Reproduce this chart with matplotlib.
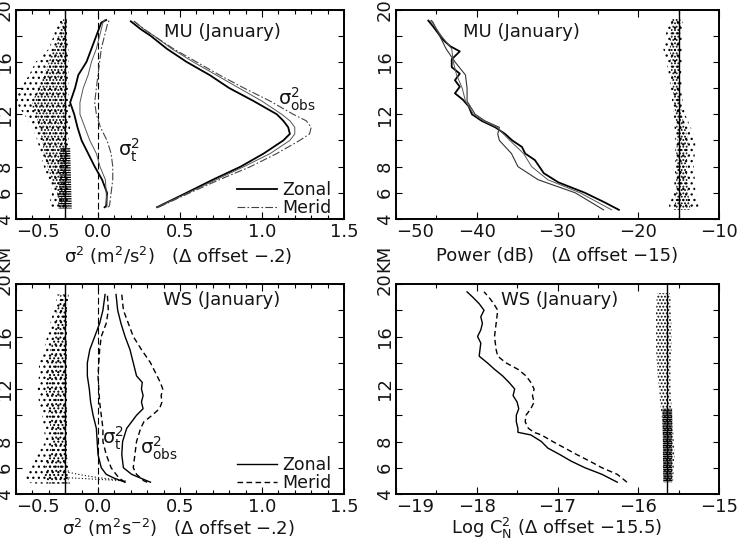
import matplotlib
matplotlib.use("Agg")
import matplotlib.pyplot as plt
from matplotlib.ticker import MultipleLocator, FixedLocator
import numpy as np

plt.rcParams['font.family'] = ['DejaVu Sans']
plt.rcParams['mathtext.fontset'] = 'dejavusans'
plt.rcParams['hatch.color'] = 'black'
plt.rcParams['hatch.linewidth'] = 0.9

# ---------------- MU (January) : variances ----------------
mu_h_t = [4.9, 5.0, 6.0, 7.0, 8.0, 9.0, 10.0, 11.0, 12.0, 12.9, 14.0, 15.0, 16.0, 17.0, 18.0, 19.0, 19.2]
mu_t_zonal = [0.04, 0.05, 0.055, 0.025, -0.02, -0.06, -0.10, -0.125, -0.145, -0.17, -0.14, -0.12, -0.07, -0.04, -0.01, 0.02, 0.05]
mu_t_zonal2 = [0.05, 0.055, 0.05, 0.045, 0.012, -0.01, -0.05, -0.08, -0.11, -0.11, -0.09, -0.06, -0.04, -0.01, 0.01, 0.03, 0.04]
mu_t_merid = [0.06, 0.07, 0.08, 0.09, 0.09, 0.08, 0.055, 0.015, -0.01, -0.02, -0.01, 0.0, 0.01, 0.02, 0.04, 0.06, 0.07]

mu_h_obs = [4.9, 6.0, 7.0, 8.0, 9.0, 10.0, 10.5, 11.0, 11.5, 12.0, 13.0, 14.0, 15.0, 16.0, 17.0, 18.0, 18.5, 19.1]
mu_obs_zonal = [0.36, 0.54, 0.70, 0.87, 1.01, 1.13, 1.17, 1.16, 1.13, 1.09, 0.95, 0.80, 0.68, 0.54, 0.42, 0.32, 0.26, 0.20]
mu_obs_zonal2 = [0.36, 0.55, 0.72, 0.89, 1.05, 1.17, 1.20, 1.20, 1.17, 1.12, 1.00, 0.86, 0.72, 0.58, 0.45, 0.34, 0.28, 0.22]
mu_obs_merid = [0.37, 0.56, 0.74, 0.93, 1.09, 1.23, 1.29, 1.30, 1.27, 1.19, 1.05, 0.89, 0.74, 0.60, 0.46, 0.34, 0.28, 0.22]

mu_offset_var = -0.2
mu_sc_h = [4.8, 5.0, 6.0, 7.0, 8.0, 9.0, 10.0, 11.0, 12.0, 12.5, 13.0, 13.5, 14.0, 15.0, 16.0, 17.0, 18.0, 19.0, 19.3]
mu_sc_left = [-0.27, -0.30, -0.28, -0.30, -0.33, -0.35, -0.37, -0.40, -0.45, -0.48, -0.50, -0.50, -0.47, -0.42, -0.38, -0.30, -0.27, -0.25, -0.24]
mu_sc_right = [-0.18, -0.18, -0.18, -0.18, -0.18, -0.18, -0.18, -0.17, -0.16, -0.17, -0.17, -0.18, -0.18, -0.18, -0.18, -0.18, -0.19, -0.19, -0.19]
mu_core_left = [-0.23, -0.24, -0.25, -0.28, -0.31, -0.33, -0.34, -0.36, -0.38, -0.40, -0.40, -0.38, -0.36, -0.33, -0.30, -0.27, -0.24, -0.22, -0.21]
mu_core_right = [-0.19] * 19
mu_band_h = [4.8, 9.5]
mu_band_left = [-0.24, -0.23]
mu_band_right = [-0.16, -0.17]

# ---------------- MU (January) : power ----------------
pw_h1 = [4.7, 5.25, 6.0, 6.8, 7.5, 8.5, 9.0, 9.5, 10.0, 10.5, 11.0, 11.5, 12.0, 12.6, 13.1, 13.6, 14.1, 14.6, 15.1, 15.6, 16.2, 16.8, 17.2, 17.7, 18.2, 18.7, 19.15]
pw_1 = [-22.4, -24.1, -26.6, -29.9, -31.7, -32.8, -34.0, -34.4, -35.6, -36.5, -37.7, -39.4, -40.6, -41.0, -41.7, -42.7, -42.1, -42.7, -42.1, -43.1, -43.1, -42.1, -43.3, -44.2, -44.8, -45.4, -46.0]
pw_h2 = [4.7, 6.0, 7.0, 8.0, 9.0, 10.0, 10.5, 11.0, 11.5, 12.0, 13.0, 14.0, 15.0, 16.0, 17.0, 18.0, 19.0, 19.15]
pw_2 = [-24.3, -27.8, -32.4, -34.9, -35.7, -37.2, -37.4, -37.2, -39.0, -40.2, -41.2, -41.2, -41.4, -42.7, -43.8, -44.6, -45.4, -45.6]
pw_3 = [-23.3, -27.2, -31.2, -33.2, -34.2, -35.9, -36.7, -37.5, -39.2, -40.4, -41.4, -41.8, -42.5, -42.9, -43.1, -44.4, -45.5, -45.8]

pw_offset = -15.0
pw_sc_h = [4.7, 5.0, 6.0, 7.0, 8.0, 9.0, 10.0, 11.0, 12.0, 13.0, 14.0, 15.0, 16.0, 17.0, 18.0, 19.0, 19.3]
pw_sc_left = [-16.3, -16.2, -15.6, -15.5, -15.4, -15.4, -15.4, -15.5, -15.6, -15.8, -16.0, -16.2, -16.5, -16.9, -16.6, -16.3, -16.0]
pw_sc_right = [-12.6, -12.5, -12.9, -13.0, -13.1, -13.0, -12.9, -13.5, -14.2, -14.5, -14.6, -14.7, -14.6, -14.6, -14.6, -14.5, -14.6]
pw_core_left = [-15.6, -15.5, -15.3, -15.3, -15.3, -15.3, -15.2, -15.3, -15.4, -15.6, -15.7, -15.9, -16.0, -16.1, -16.0, -15.9, -15.8]
pw_core_right = [-13.5, -13.6, -13.8, -13.9, -14.0, -13.9, -13.8, -14.2, -14.6, -14.8, -14.8, -14.9, -14.9, -14.9, -14.8, -14.7, -14.8]

# ---------------- WS (January) : variances ----------------
ws_h = [4.9, 5.2, 5.5, 6.0, 7.0, 8.0, 9.0, 10.0, 11.0, 12.0, 13.0, 14.0, 15.0, 16.0, 17.0, 18.0, 19.2]
ws_t_zonal = [0.165, 0.10, 0.05, 0.02, 0.0, -0.005, -0.01, -0.03, -0.045, -0.053, -0.065, -0.065, -0.05, -0.02, 0.01, 0.03, 0.043]
ws_t_merid = [0.165, 0.13, 0.11, 0.08, 0.05, 0.03, 0.03, 0.02, 0.01, 0.005, 0.0, 0.005, 0.01, 0.02, 0.05, 0.063, 0.057]
ws_h_obs = [4.9, 5.0, 5.5, 6.0, 6.5, 7.0, 8.0, 9.0, 9.5, 10.0, 10.5, 11.0, 11.5, 12.0, 12.5, 13.0, 14.0, 15.0, 16.0, 17.0, 18.0, 19.2]
ws_obs_zonal = [0.32, 0.30, 0.205, 0.155, 0.15, 0.145, 0.15, 0.175, 0.205, 0.235, 0.275, 0.265, 0.275, 0.265, 0.27, 0.235, 0.215, 0.195, 0.165, 0.14, 0.12, 0.11]
ws_obs_merid = [0.30, 0.28, 0.235, 0.215, 0.22, 0.225, 0.235, 0.26, 0.28, 0.33, 0.375, 0.39, 0.385, 0.395, 0.38, 0.36, 0.32, 0.265, 0.215, 0.185, 0.155, 0.145]

ws_sc_h = [4.8, 5.0, 5.3, 6.0, 7.0, 8.0, 9.0, 10.0, 11.0, 12.0, 13.0, 14.0, 15.0, 16.0, 17.0, 18.0, 19.0, 19.2]
ws_sc_left = [-0.40, -0.44, -0.44, -0.41, -0.37, -0.32, -0.33, -0.34, -0.36, -0.37, -0.36, -0.36, -0.33, -0.31, -0.29, -0.27, -0.25, -0.25]
ws_sc_right = [-0.17, -0.18, -0.18, -0.18, -0.19, -0.19, -0.19, -0.19, -0.19, -0.19, -0.19, -0.19, -0.19, -0.19, -0.19, -0.19, -0.18, -0.18]
ws_core_left = [-0.30, -0.32, -0.33, -0.32, -0.30, -0.28, -0.29, -0.30, -0.31, -0.32, -0.31, -0.31, -0.29, -0.27, -0.26, -0.25, -0.23, -0.23]
ws_spread1_x = [-0.20, -0.10, 0.0, 0.10, 0.17]
ws_spread1_h = [5.7, 5.45, 5.25, 5.1, 5.0]
ws_spread2_x = [-0.20, -0.05, 0.10, 0.16]
ws_spread2_h = [5.25, 5.15, 5.05, 5.0]

# ---------------- WS (January) : Log Cn2 ----------------
cn_h = [4.9, 5.5, 6.0, 6.5, 7.0, 7.5, 8.0, 8.5, 8.7, 9.0, 9.5, 10.0, 10.5, 11.0, 11.5, 12.0, 12.5, 13.0, 13.5, 14.0, 14.5, 15.0, 15.5, 16.0, 16.5, 17.0, 17.5, 18.0, 18.5, 19.0, 19.4]
cn_zonal = [-16.26, -16.45, -16.66, -16.83, -16.97, -17.12, -17.20, -17.33, -17.49, -17.49, -17.51, -17.51, -17.48, -17.50, -17.55, -17.53, -17.60, -17.68, -17.78, -17.87, -17.97, -17.96, -17.95, -17.99, -17.95, -17.93, -17.95, -17.91, -17.97, -18.05, -18.12]
cn_merid = [-16.14, -16.26, -16.45, -16.60, -16.76, -16.91, -17.06, -17.20, -17.29, -17.36, -17.40, -17.39, -17.33, -17.29, -17.31, -17.29, -17.33, -17.39, -17.49, -17.64, -17.74, -17.76, -17.77, -17.78, -17.77, -17.76, -17.75, -17.74, -17.79, -17.85, -17.91]
cn_offset = -15.65
cn_sc_h = [4.9, 6.0, 7.0, 8.0, 9.0, 10.0, 11.0, 12.0, 13.0, 14.0, 15.0, 16.0, 17.0, 18.0, 19.0, 19.3]
cn_sc_left = [-15.68, -15.69, -15.69, -15.69, -15.70, -15.71, -15.73, -15.74, -15.76, -15.77, -15.78, -15.78, -15.78, -15.78, -15.77, -15.76]
cn_sc_right = [-15.57, -15.56, -15.55, -15.56, -15.57, -15.58, -15.59, -15.60, -15.60, -15.60, -15.59, -15.59, -15.59, -15.60, -15.60, -15.61]
cn_band_h = [4.9, 10.5]
cn_band_left = [-15.69, -15.70]
cn_band_right = [-15.58, -15.58]

# ---------------- axis settings ----------------
var_ticks = [-0.5, 0.0, 0.5, 1.0, 1.5]
var_ticklabels = ['\u22120.5', '0.0', '0.5', '1.0', '1.5']
pw_ticks = [-50, -40, -30, -20, -10]
pw_ticklabels = ['\u221250', '\u221240', '\u221230', '\u221220', '\u221210']
cn_ticks = [-19, -18, -17, -16, -15]
cn_ticklabels = ['\u221219', '\u221218', '\u221217', '\u221216', '\u221215']
y_ticks = [4, 6, 8, 10, 12, 14, 16, 18, 20]
y_ticklabels = ['4', '6', '8', '', '12', '', '16', '', '20']

TXT = '#151515'
FS = 13

fig = plt.figure(figsize=(7.40, 5.38), dpi=100)
W, H = 740.0, 538.0

def make_ax(x0, x1, ytop, ybot):
    return fig.add_axes([x0 / W, 1 - ybot / H, (x1 - x0) / W, (ybot - ytop) / H])

ax1 = make_ax(16, 344, 9.5, 219)
ax2 = make_ax(396, 719, 9.5, 219)
ax3 = make_ax(16, 344, 284, 494)
ax4 = make_ax(396, 719, 284, 494)

def style(ax, xlim, ticks, labels, minor):
    ax.set_xlim(*xlim)
    ax.set_ylim(4, 20)
    ax.xaxis.set_major_locator(FixedLocator(ticks))
    ax.set_xticklabels(labels)
    ax.xaxis.set_minor_locator(MultipleLocator(minor))
    ax.set_yticks(y_ticks)
    ax.set_yticklabels(y_ticklabels)
    ax.tick_params(axis='both', which='both', direction='in', top=True, right=True,
                   colors='black', labelcolor=TXT, labelsize=FS, width=0.8)
    ax.tick_params(axis='x', which='major', length=5, pad=3)
    ax.tick_params(axis='x', which='minor', length=3)
    ax.tick_params(axis='y', which='major', length=4.5, pad=1.5, labelrotation=90)
    for lab in ax.get_yticklabels():
        lab.set_va('center')
    ax.get_xticklabels()[0].set_ha('left')
    for s in ax.spines.values():
        s.set_linewidth(1.4)
    ax.text(-0.035, 1.055, 'KM', transform=ax.transAxes, rotation=90, ha='center',
            va='bottom', fontsize=FS, color=TXT, clip_on=False)

style(ax1, (-0.5, 1.5), var_ticks, var_ticklabels, 0.1)
style(ax2, (-50, -10), pw_ticks, pw_ticklabels, 5)
style(ax3, (-0.5, 1.5), var_ticks, var_ticklabels, 0.1)
style(ax4, (-19, -15), cn_ticks, cn_ticklabels, 0.5)

leg_kw = dict(loc='lower right', bbox_to_anchor=(1.0, -0.05), frameon=False,
              fontsize=FS - 0.5, handlelength=2.3, handletextpad=0.3, labelspacing=0.0,
              borderaxespad=0.3, labelcolor=TXT)

def stipple(ax, h, left, right, pattern):
    ax.fill_betweenx(h, left, right, facecolor='none', edgecolor='k', lw=0, hatch=pattern)

# ---------------- panel 1 ----------------
stipple(ax1, mu_sc_h, mu_sc_left, mu_sc_right, '...')
stipple(ax1, mu_sc_h, mu_core_left, mu_core_right, '.....')
stipple(ax1, mu_band_h, mu_band_left, mu_band_right, '-' * 7)
ax1.axvline(mu_offset_var, color='black', lw=1.0)
ax1.axvline(0.0, color='black', lw=0.8, ls=(0, (6, 3)))
l_z, = ax1.plot(mu_t_zonal, mu_h_t, color='black', lw=1.3, label='Zonal')
ax1.plot(mu_t_zonal2, mu_h_t, color='#555555', lw=0.7)
l_m, = ax1.plot(mu_t_merid, mu_h_t, color='#444444', lw=0.8, ls=(0, (7, 2, 1.5, 2)), label='Merid')
ax1.plot(mu_obs_zonal, mu_h_obs, color='black', lw=1.3)
ax1.plot(mu_obs_zonal2, mu_h_obs, color='#555555', lw=0.7)
ax1.plot(mu_obs_merid, mu_h_obs, color='#444444', lw=0.8, ls=(0, (7, 2, 1.5, 2)))
ax1.text(0.628, 0.893, 'MU (January)', transform=ax1.transAxes, ha='center', va='center', fontsize=FS, color=TXT)
ax1.text(0.80, 0.57, '\u03c3$^2_{\\rm obs}$', transform=ax1.transAxes,
         ha='left', va='center', fontsize=FS + 1, color=TXT)
ax1.text(0.31, 0.33, '\u03c3$^2_{\\rm t}$', transform=ax1.transAxes,
         ha='left', va='center', fontsize=FS + 1, color=TXT)
ax1.legend(handles=[l_z, l_m], **leg_kw)
ax1.set_xlabel('\u03c3$^2$ (m$^2$/s$^2$)   (\u0394 offset \u2212.2)', fontsize=FS, color=TXT)
ax1.xaxis.set_label_coords(0.494, -0.175)
ax1.xaxis.label.set_va('center')

# ---------------- panel 2 ----------------
stipple(ax2, pw_sc_h, pw_sc_left, pw_sc_right, '...')
stipple(ax2, pw_sc_h, pw_core_left, pw_core_right, '.....')
ax2.axvline(pw_offset, color='black', lw=1.0)
ax2.plot(pw_1, pw_h1, color='black', lw=1.3)
ax2.plot(pw_2, pw_h2, color='#333333', lw=0.8)
ax2.plot(pw_3, pw_h2, color='#555555', lw=0.7)
ax2.text(0.387, 0.893, 'MU (January)', transform=ax2.transAxes, ha='center', va='center', fontsize=FS, color=TXT)
ax2.set_xlabel('Power (dB)   (\u0394 offset \u221215)', fontsize=FS, color=TXT)
ax2.xaxis.set_label_coords(0.498, -0.175)
ax2.xaxis.label.set_va('center')

# ---------------- panel 3 ----------------
stipple(ax3, ws_sc_h, ws_sc_left, ws_sc_right, '...')
stipple(ax3, ws_sc_h, ws_core_left, ws_sc_right, '....')
ax3.plot(ws_spread1_x, ws_spread1_h, color='black', lw=0.8, ls=(0, (1, 2)))
ax3.plot(ws_spread2_x, ws_spread2_h, color='black', lw=0.8, ls=(0, (1, 2)))
ax3.axvline(mu_offset_var, color='black', lw=1.0)
ax3.axvline(0.0, color='black', lw=0.8, ls=(0, (6, 3)))
w_z, = ax3.plot(ws_t_zonal, ws_h, color='black', lw=1.0, label='Zonal')
w_m, = ax3.plot(ws_t_merid, ws_h, color='black', lw=1.0, ls=(0, (4, 2.5)), label='Merid')
ax3.plot(ws_obs_zonal, ws_h_obs, color='black', lw=1.0)
ax3.plot(ws_obs_merid, ws_h_obs, color='black', lw=1.0, ls=(0, (4, 2.5)))
ax3.text(0.628, 0.924, 'WS (January)', transform=ax3.transAxes, ha='center', va='center', fontsize=FS, color=TXT)
ax3.text(0.262, 0.267, '\u03c3$^2_{\\rm t}$', transform=ax3.transAxes,
         ha='left', va='center', fontsize=FS + 1, color=TXT)
ax3.text(0.378, 0.219, '\u03c3$^2_{\\rm obs}$', transform=ax3.transAxes,
         ha='left', va='center', fontsize=FS + 1, color=TXT)
ax3.legend(handles=[w_z, w_m], **leg_kw)
ax3.set_xlabel('\u03c3$^2$ (m$^2$s$^{-2}$)   (\u0394 offset \u2212.2)', fontsize=FS, color=TXT)
ax3.xaxis.set_label_coords(0.494, -0.16)
ax3.xaxis.label.set_va('center')

# ---------------- panel 4 ----------------
stipple(ax4, cn_sc_h, cn_sc_left, cn_sc_right, '.....')
stipple(ax4, cn_band_h, cn_band_left, cn_band_right, '-' * 9)
ax4.axvline(cn_offset, color='black', lw=1.0)
ax4.plot(cn_zonal, cn_h, color='black', lw=1.0)
ax4.plot(cn_merid, cn_h, color='black', lw=1.0, ls=(0, (4, 2.5)))
ax4.text(0.508, 0.924, 'WS (January)', transform=ax4.transAxes, ha='center', va='center', fontsize=FS, color=TXT)
ax4.set_xlabel('Log C$^2_{\\rm N}$ (\u0394 offset \u221215.5)', fontsize=FS, color=TXT)
ax4.xaxis.set_label_coords(0.498, -0.165)
ax4.xaxis.label.set_va('center')

fig.savefig('out.png', dpi=100)
